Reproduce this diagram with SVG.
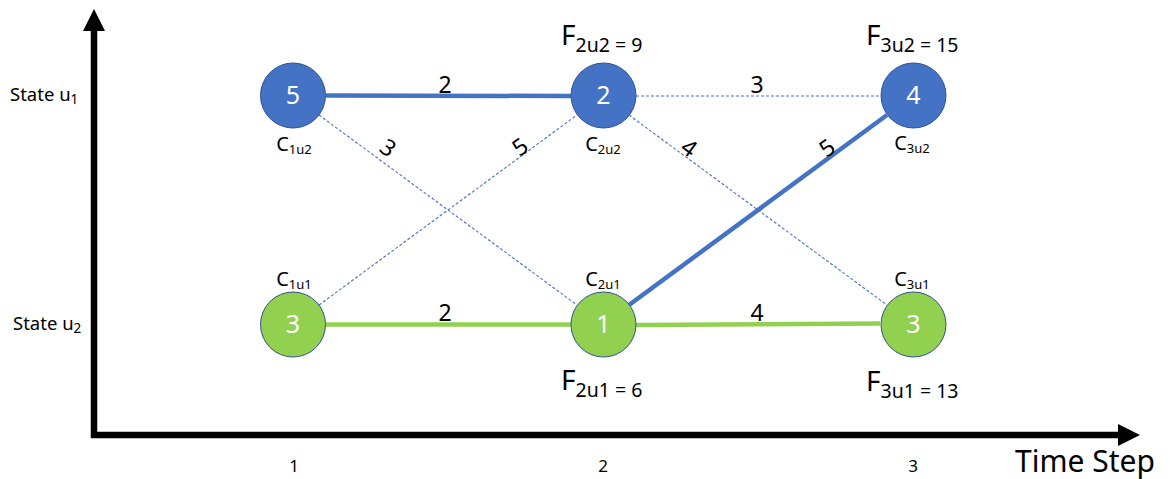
<svg xmlns="http://www.w3.org/2000/svg" width="1170" height="479" viewBox="0 0 1170 479">
<style>
text{font-family:"Noto Sans","Open Sans","Liberation Sans",sans-serif;fill:#000}
.node-b{fill:#4472C4;stroke:#2F528F;stroke-width:1}
.node-g{fill:#92D050;stroke:#2F528F;stroke-width:1}
.num{font-size:25px;fill:#fff;text-anchor:middle}
.c{font-size:20px;text-anchor:middle}
.cs{font-size:13px}
.f{font-size:28px}
.fs{font-size:19.5px}
.el{font-size:23px;text-anchor:middle}
.dash{stroke:#4472C4;stroke-width:1.1;stroke-dasharray:3 2;fill:none}
.thick-b{stroke:#4472C4;stroke-width:4.5;fill:none}
.thick-g{stroke:#92D050;stroke-width:4.5;fill:none}
.axis{stroke:#000;stroke-width:6.5;fill:none}
.lab{font-size:18.5px}
.tick{font-size:17px;text-anchor:middle}
</style>
<g id="axes">
<path class="axis" d="M94 438 V28 M91 435 H1120"/>
<polygon points="83,31 94,9 105,31" fill="#000"/>
<polygon points="1118,424 1140,435 1118,446" fill="#000"/>
<text class="lab" x="10" y="101">State u<tspan font-size="13.5" dy="3">1</tspan></text>
<text class="lab" x="13" y="330">State u<tspan font-size="13.5" dy="3">2</tspan></text>
<text class="tick" x="294" y="472">1</text>
<text class="tick" x="603" y="472">2</text>
<text class="tick" x="913" y="472">3</text>
<text x="1015" y="472" font-size="30">Time Step</text>
</g>
<g id="connectors">
<line class="dash" x1="636" y1="96" x2="880" y2="96"/>
<line class="dash" x1="319" y1="115" x2="577" y2="305"/>
<line class="dash" x1="319" y1="305" x2="577" y2="115"/>
<line class="dash" x1="629" y1="115" x2="887" y2="305"/>
<line class="thick-b" x1="326" y1="95.5" x2="571" y2="96"/>
<line class="thick-b" x1="629" y1="305" x2="887" y2="115"/>
<line class="thick-g" x1="326" y1="324.5" x2="571" y2="324.5"/>
<line class="thick-g" x1="636" y1="325" x2="880" y2="323.5"/>
<text class="el" x="445" y="93">2</text>
<text class="el" x="757" y="93">3</text>
<text class="el" x="445" y="321">2</text>
<text class="el" x="757" y="321">4</text>
<text class="el" transform="translate(388,148) rotate(36)" y="8">3</text>
<text class="el" transform="translate(520,147) rotate(-36)" y="8">5</text>
<text class="el" transform="translate(689,148) rotate(36)" y="8">4</text>
<text class="el" transform="translate(827,148) rotate(-36)" y="8">5</text>
</g>
<g id="n1u2">
<circle class="node-b" cx="293" cy="95.5" r="32.5"/>
<text class="num" x="293" y="104">5</text>
<text class="c" x="294" y="151">C<tspan class="cs" dy="3">1u2</tspan></text>
</g>
<g id="n2u2">
<circle class="node-b" cx="603.5" cy="95.5" r="32.5"/>
<text class="num" x="603.5" y="104">2</text>
<text class="c" x="603" y="151">C<tspan class="cs" dy="3">2u2</tspan></text>
<text class="f" x="561" y="45">F<tspan class="fs" dy="7">2u2 = 9</tspan></text>
</g>
<g id="n3u2">
<circle class="node-b" cx="913.5" cy="95.5" r="32.5"/>
<text class="num" x="913.5" y="104">4</text>
<text class="c" x="912" y="150">C<tspan class="cs" dy="3">3u2</tspan></text>
<text class="f" x="866" y="45">F<tspan class="fs" dy="7">3u2 = 15</tspan></text>
</g>
<g id="n1u1">
<circle class="node-g" cx="293" cy="324.5" r="32.5"/>
<text class="num" x="293" y="333">3</text>
<text class="c" x="294" y="286">C<tspan class="cs" dy="3">1u1</tspan></text>
</g>
<g id="n2u1">
<circle class="node-g" cx="603.5" cy="324.5" r="32.5"/>
<text class="num" x="603.5" y="333">1</text>
<text class="c" x="603" y="286">C<tspan class="cs" dy="3">2u1</tspan></text>
<text class="f" x="561" y="390">F<tspan class="fs" dy="7">2u1 = 6</tspan></text>
</g>
<g id="n3u1">
<circle class="node-g" cx="913.5" cy="324.5" r="32.5"/>
<text class="num" x="913.5" y="333">3</text>
<text class="c" x="912" y="286">C<tspan class="cs" dy="3">3u1</tspan></text>
<text class="f" x="866" y="391">F<tspan class="fs" dy="7">3u1 = 13</tspan></text>
</g>
</svg>
